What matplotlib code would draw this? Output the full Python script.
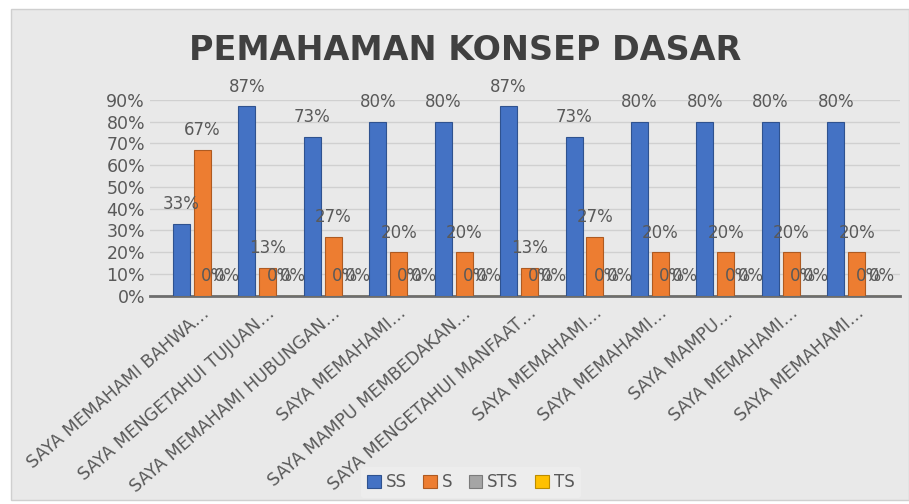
import numpy as np
import matplotlib.pyplot as plt
from matplotlib.patches import Rectangle

categories = [
    "SAYA MEMAHAMI BAHWA…",
    "SAYA MENGETAHUI TUJUAN…",
    "SAYA MEMAHAMI HUBUNGAN…",
    "SAYA MEMAHAMI…",
    "SAYA MAMPU MEMBEDAKAN…",
    "SAYA MENGETAHUI MANFAAT…",
    "SAYA MEMAHAMI…",
    "SAYA MEMAHAMI…",
    "SAYA MAMPU…",
    "SAYA MEMAHAMI…",
    "SAYA MEMAHAMI…",
]
ss = [0.33, 0.87, 0.73, 0.80, 0.80, 0.87, 0.73, 0.80, 0.80, 0.80, 0.80]
s = [0.67, 0.13, 0.27, 0.20, 0.20, 0.13, 0.27, 0.20, 0.20, 0.20, 0.20]
sts = [0] * 11
ts = [0] * 11
yticks = [0, 0.1, 0.2, 0.3, 0.4, 0.5, 0.6, 0.7, 0.8, 0.9]

series = [("SS", ss, "#4472C4", "#2f528f"), ("S", s, "#ED7D31", "#ae5a21"),
          ("STS", sts, "#A5A5A5", "#7b7b7b"), ("TS", ts, "#FFC000", "#bc8c00")]
offsets = [-0.3, 0.02, 0.2, 0.4]
txt = "#595959"

fig = plt.figure(figsize=(9.09, 5.04), dpi=100)
fig.patch.set_facecolor("white")
fig.patches.append(Rectangle((0.012, 0.008), 0.988, 0.975, transform=fig.transFigure,
                             facecolor="#e9e9e9", edgecolor="#cfcfcf", zorder=-10))

ax = fig.add_axes([0.165, 0.413, 0.825, 0.389])
ax.set_facecolor("none")
x = np.arange(len(categories))
for (name, vals, col, edge), off in zip(series, offsets):
    ax.bar(x + off, vals, width=0.26, color=col, edgecolor=edge, linewidth=0.8,
           label=name, zorder=3)
    for xi, v in zip(x + off, vals):
        ax.text(xi, v + 0.09, f"{round(v * 100)}%", ha="center", va="center",
                fontsize=12, color=txt, zorder=5, clip_on=False)

ax.set_ylim(0, 0.9)
ax.set_xlim(-0.78, 10.68)
ax.set_yticks(yticks)
ax.set_yticklabels([f"{round(t * 100)}%" for t in yticks], fontsize=12.5, color=txt)
ax.yaxis.grid(True, color="#d0d0d0", linewidth=1, zorder=0)
ax.set_xticks(x)
ax.set_xticklabels(categories, rotation=41, ha="right", va="top", rotation_mode="anchor",
                   fontsize=12.5, color=txt)
ax.tick_params(length=0)
ax.tick_params(axis="x", pad=6)
for sp in ["top", "right", "left"]:
    ax.spines[sp].set_visible(False)
ax.spines["bottom"].set_color("#6d6d6d")
ax.spines["bottom"].set_linewidth(2)

fig.text(0.512, 0.9, "PEMAHAMAN KONSEP DASAR", ha="center", va="center",
         fontsize=24, fontweight="bold", color="#404040")

leg = fig.legend(loc="center", bbox_to_anchor=(0.518, 0.043), ncol=4, frameon=True,
                 fontsize=12, handlelength=0.8, handleheight=0.8, handletextpad=0.3,
                 columnspacing=1.0, labelcolor=txt)
leg.get_frame().set_facecolor("#efefef")
leg.get_frame().set_edgecolor("none")

fig.savefig("out.png", dpi=100)
